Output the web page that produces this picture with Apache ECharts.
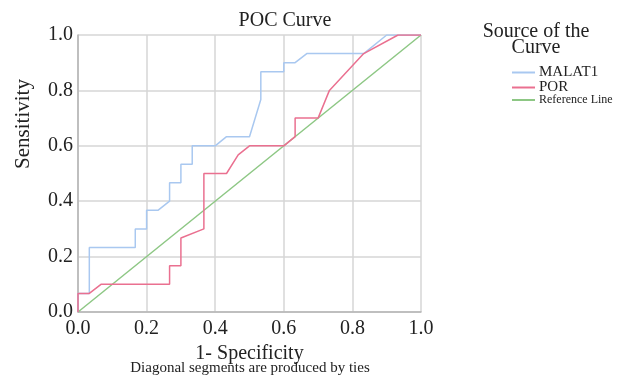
<!DOCTYPE html>
<html>
<head>
<meta charset="utf-8">
<script src="https://cdn.jsdelivr.net/npm/echarts@6/dist/echarts.min.js"></script>
<style>
  html, body { margin: 0; padding: 0; background: #fff; }
  #chart { width: 618px; height: 376px; }
</style>
</head>
<body>
<div id="chart"></div>
<script>
// ROC step points
const malatX = [0, 0, 0.033, 0.033, 0.167, 0.167, 0.2, 0.2, 0.233, 0.267, 0.267, 0.3, 0.3, 0.333, 0.333, 0.4, 0.433, 0.5, 0.533, 0.533, 0.6, 0.6, 0.633, 0.667, 0.833, 0.9, 1.0];
const malatY = [0, 0.067, 0.067, 0.233, 0.233, 0.3, 0.3, 0.367, 0.367, 0.4, 0.467, 0.467, 0.533, 0.533, 0.6, 0.6, 0.633, 0.633, 0.767, 0.867, 0.867, 0.9, 0.9, 0.933, 0.933, 1.0, 1.0];
const porX = [0, 0, 0.033, 0.067, 0.267, 0.267, 0.3, 0.3, 0.367, 0.367, 0.433, 0.467, 0.5, 0.6, 0.633, 0.633, 0.7, 0.733, 0.833, 0.933, 1.0];
const porY = [0, 0.067, 0.067, 0.1, 0.1, 0.167, 0.167, 0.267, 0.3, 0.5, 0.5, 0.567, 0.6, 0.6, 0.633, 0.7, 0.7, 0.8, 0.933, 1.0, 1.0];
const refX = [0, 1];
const refY = [0, 1];
const tickLabels = ['0.0', '0.2', '0.4', '0.6', '0.8', '1.0'];
const seriesNames = ['MALAT1', 'POR', 'Reference Line'];
const colors = ['#a9c8f0', '#ea7090', '#8dc784'];

const zip = (xs, ys) => xs.map((x, i) => [x, ys[i]]);
const font = '"Liberation Serif", "DejaVu Serif", serif';
const textColor = '#222';

const chart = echarts.init(document.getElementById('chart'));
const axisCommon = {
    type: 'value',
    min: 0,
    max: 1,
    interval: 0.2,
    axisLine: { show: true, lineStyle: { color: '#b4b4b4', width: 1.5 } },
    axisTick: { show: false },
    splitLine: { show: true, lineStyle: { color: '#d6d6d6', width: 1.5 } },
    axisLabel: {
        color: textColor,
        fontFamily: font,
        fontSize: 20,
        margin: 5,
        formatter: v => tickLabels[Math.round(v * 5)]
    },
    nameTextStyle: { color: textColor, fontFamily: font, fontSize: 20 }
};

// one legend per entry so each row sits where the picture has it
const legendTops = [65, 80, 94];
const legendSizes = [15, 15, 12];
const legends = seriesNames.map((name, i) => ({
    data: [name],
    left: 512,
    top: legendTops[i],
    padding: 0,
    itemWidth: 23,
    itemHeight: 2,
    itemGap: 0,
    icon: 'rect',
    textStyle: { fontFamily: font, color: textColor, fontSize: legendSizes[i], padding: [0, 0, 0, -1] }
}));

chart.setOption({
    animation: false,
    backgroundColor: '#fff',
    title: [
        { text: 'POC Curve', left: 285, top: 11, textAlign: 'center', padding: 0,
          textStyle: { fontFamily: font, fontSize: 20, fontWeight: 'normal', color: textColor } },
        { text: 'Source of the\nCurve', left: 536, top: 24, textAlign: 'center', padding: 0,
          textStyle: { fontFamily: font, fontSize: 20, fontWeight: 'normal', color: textColor, lineHeight: 16 } },
        { text: 'Diagonal segments are produced by ties', left: 250, top: 361, textAlign: 'center', padding: 0,
          textStyle: { fontFamily: font, fontSize: 15, fontWeight: 'normal', color: textColor } }
    ],
    legend: legends,
    graphic: [{
        type: 'text',
        x: 23,
        y: 124,
        rotation: Math.PI / 2,
        style: {
            text: 'Sensitivity',
            fontFamily: font,
            fontSize: 21,
            fill: textColor,
            align: 'center',
            verticalAlign: 'middle'
        }
    }],
    grid: { left: 78, top: 35, width: 343, height: 277 },
    xAxis: Object.assign({}, axisCommon, {
        name: '1- Specificity',
        nameLocation: 'middle',
        nameGap: 28,
        axisLabel: Object.assign({}, axisCommon.axisLabel, { margin: 7 })
    }),
    yAxis: Object.assign({}, axisCommon),
    series: [
        { name: seriesNames[2], type: 'line', data: zip(refX, refY), symbol: 'none',
          lineStyle: { color: colors[2], width: 1.5 }, itemStyle: { color: colors[2] } },
        { name: seriesNames[0], type: 'line', data: zip(malatX, malatY), symbol: 'none',
          lineStyle: { color: colors[0], width: 1.5 }, itemStyle: { color: colors[0] } },
        { name: seriesNames[1], type: 'line', data: zip(porX, porY), symbol: 'none',
          lineStyle: { color: colors[1], width: 1.5 }, itemStyle: { color: colors[1] } }
    ]
});
</script>
</body>
</html>
